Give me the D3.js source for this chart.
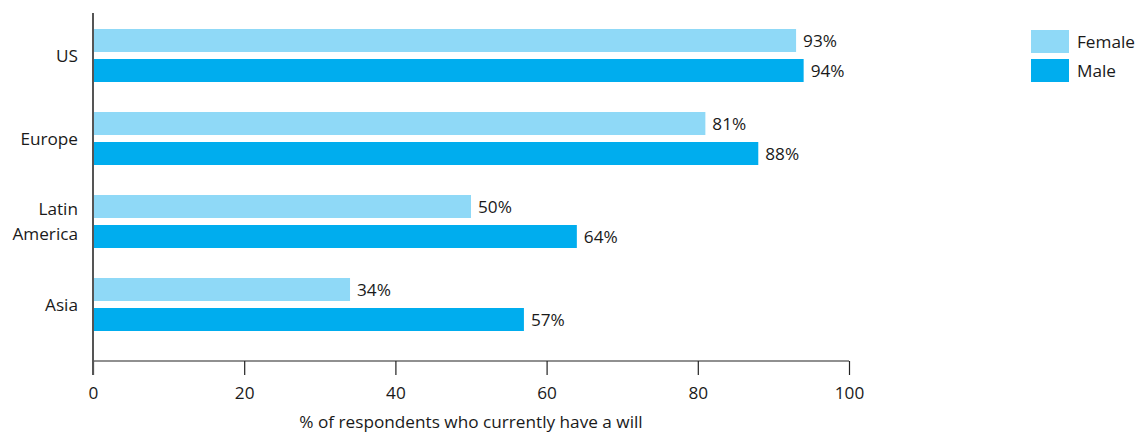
<!DOCTYPE html>
<html><head><meta charset="utf-8">
<script src="https://cdn.jsdelivr.net/npm/d3@7"></script>
<style>body{margin:0;background:#fff}svg text{font-family:"Open Sans","Noto Sans",sans-serif;fill:#1a1a1a}</style>
</head><body><svg id="c" width="1141" height="435"></svg>
<script>
const categories = ["US","Europe","Latin America","Asia"];
const categoryLines = [["US"],["Europe"],["Latin","America"],["Asia"]];
const seriesNames = ["Female","Male"];
const female = [93,81,50,34];
const male = [94,88,64,57];
const xTicks = [0,20,40,60,80,100];
const colors = {Female:"#8fd9f7", Male:"#00adee"};
const axisTitle = "% of respondents who currently have a will";
const FS = 17.2;

const svg = d3.select("#c");
const x = d3.scaleLinear().domain([0,100]).range([93,849]);
const y0 = d3.scaleBand().domain(categories).range([13,347]).paddingInner(30/83).paddingOuter(16/83);
const y1 = d3.scaleBand().domain(seriesNames).range([0,y0.bandwidth()]).paddingInner(7/30).paddingOuter(0);

const data = categories.map((c,i)=>({cat:c, lines:categoryLines[i], vals:[{s:"Female",v:female[i]},{s:"Male",v:male[i]}]}));

const g = svg.selectAll("g.grp").data(data).join("g").attr("transform",d=>`translate(0,${y0(d.cat)})`);
g.selectAll("rect").data(d=>d.vals).join("rect")
  .attr("x",x(0)).attr("y",d=>y1(d.s)).attr("width",d=>x(d.v)-x(0)).attr("height",y1.bandwidth())
  .attr("fill",d=>colors[d.s]);
g.selectAll("text.val").data(d=>d.vals).join("text").attr("class","val")
  .attr("x",d=>x(d.v)+7).attr("y",d=>y1(d.s)+y1.bandwidth()/2).attr("dy","0.35em")
  .attr("font-size",FS).text(d=>d.v+"%");
g.each(function(d){
  const t = d3.select(this).append("text").attr("text-anchor","end").attr("font-size",FS);
  const n = d.lines.length, cy = y0.bandwidth()/2;
  d.lines.forEach((l,k)=>{
    t.append("tspan").attr("x",78).attr("y",cy + (k-(n-1)/2)*25).attr("dy","0.35em").text(l);
  });
});

// axes
const xAxis = svg.append("g").attr("transform","translate(0,361)")
  .call(d3.axisBottom(x).tickValues(xTicks).tickSize(14).tickPadding(12));
xAxis.select(".domain").attr("stroke","#222").attr("stroke-width",1.2).attr("d",`M${x(0)},0H${x(100)}`);
xAxis.selectAll(".tick line").attr("stroke","#222").attr("stroke-width",1.2);
xAxis.selectAll(".tick text").attr("font-size",FS).attr("font-family","'Open Sans','Noto Sans',sans-serif").attr("fill","#1a1a1a");
svg.append("line").attr("x1",x(0)).attr("x2",x(0)).attr("y1",13).attr("y2",375).attr("stroke","#555").attr("stroke-width",2);

svg.append("text").attr("x",471).attr("y",422).attr("dy","0.35em").attr("text-anchor","middle").attr("font-size",FS).text(axisTitle);

// legend
const lg = svg.selectAll("g.leg").data(seriesNames).join("g").attr("transform",(d,i)=>`translate(1031,${30+i*29})`);
lg.append("rect").attr("width",38).attr("height",23).attr("fill",d=>colors[d]);
lg.append("text").attr("x",46).attr("y",11.5).attr("dy","0.35em").attr("font-size",FS).text(d=>d);
</script></body></html>
